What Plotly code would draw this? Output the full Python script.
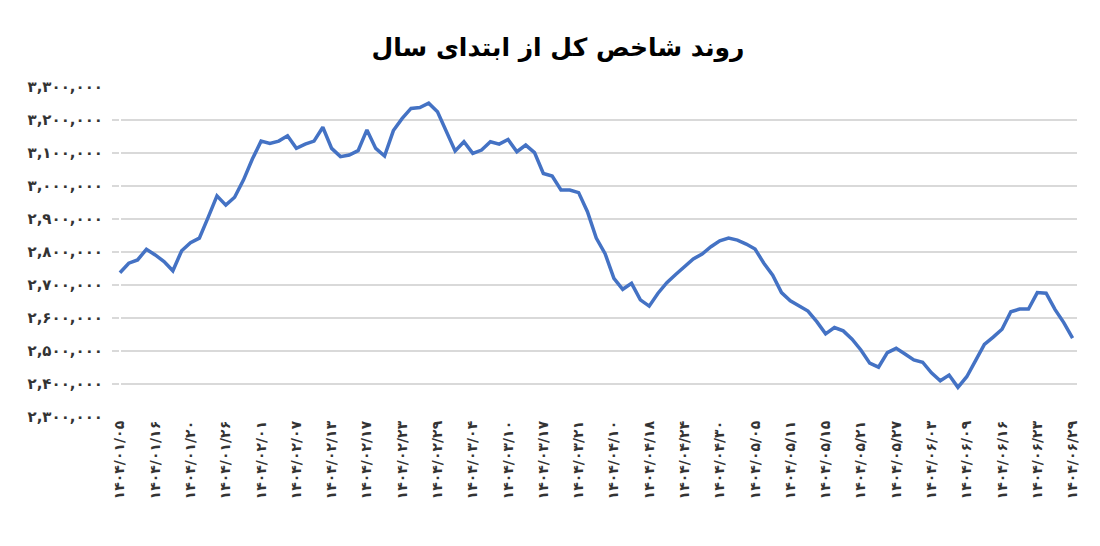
import plotly.graph_objects as go

tick_dates = ["۱۴۰۴/۰۱/۰۵","۱۴۰۴/۰۱/۱۶","۱۴۰۴/۰۱/۲۰","۱۴۰۴/۰۱/۲۶","۱۴۰۴/۰۲/۰۱","۱۴۰۴/۰۲/۰۷","۱۴۰۴/۰۲/۱۳",
              "۱۴۰۴/۰۲/۱۷","۱۴۰۴/۰۲/۲۳","۱۴۰۴/۰۲/۲۹","۱۴۰۴/۰۳/۰۴","۱۴۰۴/۰۳/۱۰","۱۴۰۴/۰۳/۱۷","۱۴۰۴/۰۳/۲۱",
              "۱۴۰۴/۰۴/۱۰","۱۴۰۴/۰۴/۱۸","۱۴۰۴/۰۴/۲۴","۱۴۰۴/۰۴/۳۰","۱۴۰۴/۰۵/۰۵","۱۴۰۴/۰۵/۱۱","۱۴۰۴/۰۵/۱۵",
              "۱۴۰۴/۰۵/۲۱","۱۴۰۴/۰۵/۲۷","۱۴۰۴/۰۶/۰۳","۱۴۰۴/۰۶/۰۹","۱۴۰۴/۰۶/۱۶","۱۴۰۴/۰۶/۲۳","۱۴۰۴/۰۶/۲۹"]

index_values = [
 2737,2766,2776,2808,2791,2771,2743,2804,2828,2842,2905,2970,2942,2966,3018,3081,3136,3129,3136,3152,
 3114,3127,3136,3178,3114,3089,3094,3107,3170,3114,3091,3168,3205,3235,3238,3251,3225,3168,3106,3134,
 3099,3109,3134,3127,3141,3104,3124,3101,3038,3030,2988,2988,2980,2922,2842,2795,2720,2687,2705,2655,
 2636,2675,2707,2732,2756,2779,2794,2816,2834,2842,2836,2824,2809,2766,2730,2677,2652,2636,2621,2589,
 2552,2571,2561,2536,2503,2463,2451,2495,2508,2491,2473,2466,2434,2410,2427,2390,2422,2471,2520,2542,
 2566,2619,2627,2627,2677,2675,2626,2586,2539]
index_values = [v * 1000 for v in index_values]

y_ticks = list(range(2300000, 3300001, 100000))
P = str.maketrans("0123456789", "۰۱۲۳۴۵۶۷۸۹")
y_text = ["<b>" + f"{v:,}".translate(P) + "</b>" for v in y_ticks]
x_text = ["<b>" + d + "</b>" for d in tick_dates]

x = list(range(len(index_values)))
tick_pos = list(range(0, len(index_values), 4))

fig = go.Figure(go.Scatter(x=x, y=index_values, mode="lines",
                           line=dict(color="#4472C4", width=3.5), hoverinfo="y"))
fig.update_layout(
    width=1100, height=546, plot_bgcolor="white", paper_bgcolor="white",
    margin=dict(l=104, r=31, t=79, b=137),
    title=dict(text="<b>روند شاخص کل از ابتدای سال</b>", x=0.5, xanchor="center", y=0.945,
               font=dict(family="DejaVu Sans", size=25, color="black")),
    font=dict(family="DejaVu Sans", color="#333"),
    showlegend=False,
)
fig.update_xaxes(range=[-0.9, 108.5], tickvals=tick_pos, ticktext=x_text, tickangle=-90,
                 tickfont=dict(size=14, color="#333"), showgrid=False, showline=False, ticks="")
fig.update_yaxes(range=[2300000, 3300000], tickvals=y_ticks, ticktext=y_text,
                 tickfont=dict(size=15, color="#333"), gridcolor="#d9d9d9", gridwidth=1.5,
                 zeroline=False, showline=False, ticks="", ticklabelstandoff=8)
fig.write_html("out.html")
